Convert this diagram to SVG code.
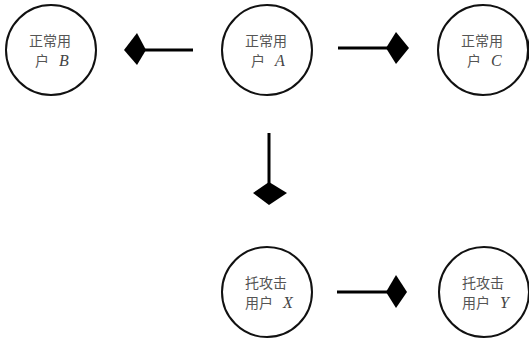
<svg xmlns="http://www.w3.org/2000/svg" width="529" height="342" viewBox="0 0 529 342">
<style>
.node circle{fill:#fff;stroke:#111;stroke-width:2}
.cjk{font-family:"Noto Sans CJK SC",sans-serif;font-size:14px;fill:#555}
.lat{font-family:"Liberation Serif",serif;font-style:italic;font-size:16px;fill:#444}
.line{stroke:#000;stroke-width:3;fill:none}
.head{fill:#000}
</style>
<rect width="529" height="342" fill="#fff"/>
<g id="connectors">
<line class="line" x1="193" y1="50" x2="142" y2="50"/>
<polygon class="head" points="124,50 137,33 146,50 137,65"/>
<line class="line" x1="338" y1="48" x2="390" y2="48"/>
<polygon class="head" points="409,48 396,32 386,48 396,64"/>
<line class="line" x1="269" y1="133" x2="269" y2="188"/>
<polygon class="head" points="269,205 253,193 269,182 287,193"/>
<line class="line" x1="337" y1="292" x2="390" y2="292"/>
<polygon class="head" points="407,292 396,275 386,292 396,308"/>
<polygon class="head" points="529,38 526,50 529,62"/>
<polygon class="head" points="529,282 526,292 529,302"/>
</g>
<g id="nodeB" class="node">
<circle cx="51" cy="50" r="45"/>
<text class="cjk" x="29" y="46">正常用</text>
<text class="cjk" x="35" y="66">户</text><text class="lat" x="59" y="66">B</text>
</g>
<g id="nodeA" class="node">
<circle cx="267" cy="50" r="45"/>
<text class="cjk" x="245" y="46">正常用</text>
<text class="cjk" x="251" y="66">户</text><text class="lat" x="275" y="66">A</text>
</g>
<g id="nodeC" class="node">
<circle cx="483" cy="50" r="45"/>
<text class="cjk" x="461" y="46">正常用</text>
<text class="cjk" x="467" y="66">户</text><text class="lat" x="491" y="66">C</text>
</g>
<g id="nodeX" class="node">
<circle cx="267" cy="292" r="45"/>
<text class="cjk" x="245" y="288">托攻击</text>
<text class="cjk" x="245" y="308">用户</text><text class="lat" x="283" y="308">X</text>
</g>
<g id="nodeY" class="node">
<circle cx="484" cy="292" r="45"/>
<text class="cjk" x="462" y="288">托攻击</text>
<text class="cjk" x="462" y="308">用户</text><text class="lat" x="500" y="308">Y</text>
</g>
</svg>
